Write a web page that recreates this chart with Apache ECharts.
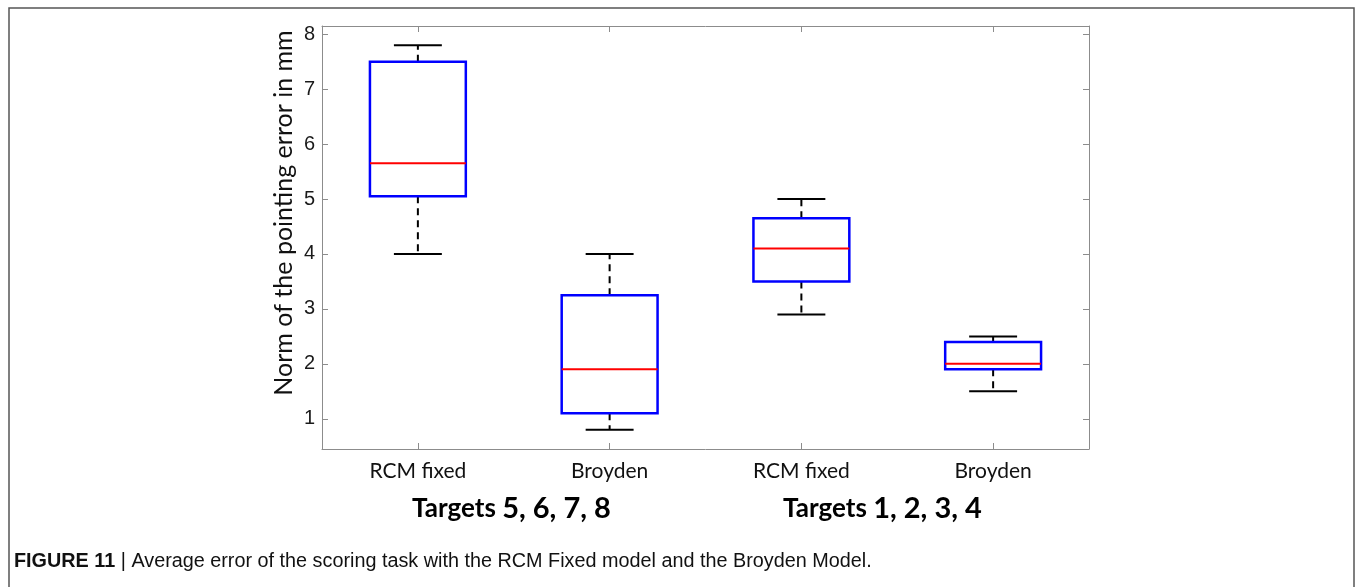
<!DOCTYPE html>
<html>
<head>
<meta charset="utf-8">
<script src="https://cdn.jsdelivr.net/npm/echarts@6/dist/echarts.min.js"></script>
<style>
  html, body { margin: 0; padding: 0; background: #fff; }
  #chart { width: 1355px; height: 587px; }
</style>
</head>
<body>
<div id="chart"></div>
<script>
// Pointing error (mm) per model, two target groups
const categories = ['RCM fixed', 'Broyden', 'RCM fixed', 'Broyden'];
const lowerWhisker = [4.0, 0.8, 2.9, 1.5];
const quartile1    = [5.05, 1.1, 3.5, 1.9];
const median       = [5.65, 1.9, 4.1, 2.0];
const quartile3    = [7.5, 3.25, 4.65, 2.4];
const upperWhisker = [7.8, 4.0, 5.0, 2.5];
const yTicks = [1, 2, 3, 4, 5, 6, 7, 8];

const boxData = categories.map((c, i) => [i, lowerWhisker[i], quartile1[i], median[i], quartile3[i], upperWhisker[i]]);

const chart = echarts.init(document.getElementById('chart'), null, { renderer: 'canvas' });

const axisGrey = '#8c8c8c';

function renderBox(params, api) {
  const idx = api.value(0);
  const band = api.size([1, 0])[0];
  const cx = api.coord([idx, 0])[0];
  const yLow = api.coord([idx, api.value(1)])[1];
  const yQ1 = api.coord([idx, api.value(2)])[1];
  const yMed = api.coord([idx, api.value(3)])[1];
  const yQ3 = api.coord([idx, api.value(4)])[1];
  const yHigh = api.coord([idx, api.value(5)])[1];
  const halfBox = band * 0.25;
  const halfCap = band * 0.125;
  const black = '#000';
  const dash = { stroke: black, lineWidth: 2, lineDash: [7, 5] };
  const solid = { stroke: black, lineWidth: 2 };
  return {
    type: 'group',
    children: [
      { type: 'line', shape: { x1: cx, y1: yQ3, x2: cx, y2: yHigh }, style: dash },
      { type: 'line', shape: { x1: cx, y1: yQ1, x2: cx, y2: yLow }, style: dash },
      { type: 'line', shape: { x1: cx - halfCap, y1: yHigh, x2: cx + halfCap, y2: yHigh }, style: solid },
      { type: 'line', shape: { x1: cx - halfCap, y1: yLow, x2: cx + halfCap, y2: yLow }, style: solid },
      { type: 'rect', shape: { x: cx - halfBox, y: yQ3, width: halfBox * 2, height: yQ1 - yQ3 },
        style: { fill: '#fff', stroke: '#0000ff', lineWidth: 2.5 } },
      { type: 'line', shape: { x1: cx - halfBox, y1: yMed, x2: cx + halfBox, y2: yMed },
        style: { stroke: '#ff0000', lineWidth: 2 } }
    ]
  };
}

const yAxisBase = {
  type: 'value',
  min: 0.45,
  max: 8.15,
  splitLine: { show: false },
  axisLine: { show: true, lineStyle: { color: axisGrey, width: 1 } },
  axisTick: { show: true, inside: true, length: 6, customValues: yTicks, lineStyle: { color: axisGrey } }
};

const option = {
  animation: false,
  backgroundColor: '#fff',
  grid: { left: 322, top: 26, right: 266, bottom: 138, containLabel: false },
  xAxis: [
    {
      type: 'category',
      data: categories,
      position: 'bottom',
      boundaryGap: true,
      axisLine: { show: true, lineStyle: { color: axisGrey, width: 1 } },
      axisTick: { show: true, inside: true, length: 6, alignWithLabel: true, lineStyle: { color: axisGrey } },
      axisLabel: { color: '#111', fontFamily: 'Lato', fontSize: 21, margin: 12 }
    },
    {
      type: 'category',
      data: categories,
      position: 'top',
      boundaryGap: true,
      axisLine: { show: true, lineStyle: { color: axisGrey, width: 1 } },
      axisTick: { show: true, inside: true, length: 6, alignWithLabel: true, lineStyle: { color: axisGrey } },
      axisLabel: { show: false }
    }
  ],
  yAxis: [
    Object.assign({}, yAxisBase, {
      position: 'left',
      axisLabel: {
        color: '#1a1a1a', fontFamily: 'Liberation Sans', fontSize: 20, margin: 7,
        customValues: yTicks
      }
    }),
    Object.assign({}, yAxisBase, {
      position: 'right',
      axisLabel: { show: false }
    })
  ],
  series: [
    {
      type: 'custom',
      xAxisIndex: 0,
      yAxisIndex: 0,
      renderItem: renderBox,
      encode: { x: 0, y: [1, 2, 3, 4, 5] },
      data: boxData,
      clip: false
    }
  ],
  graphic: [
    {
      type: 'rect', silent: true,
      shape: { x: 9, y: 8, width: 1345, height: 600 },
      style: { fill: 'none', stroke: '#555', lineWidth: 1.5 }
    },
    {
      type: 'text', silent: true,
      x: 284, y: 213, rotation: Math.PI / 2,
      style: {
        text: 'Norm of the pointing error in mm',
        fontFamily: 'Lato', fontSize: 25, fill: '#111',
        align: 'center', verticalAlign: 'middle'
      }
    },
    {
      type: 'text', silent: true,
      x: 412, y: 509,
      style: {
        text: '{a|Targets }{b|5, 6, 7, 8}',
        verticalAlign: 'middle',
        rich: {
          a: { fontFamily: 'Lato', fontWeight: 'bold', fontSize: 26, fill: '#000' },
          b: { fontFamily: 'Lato', fontWeight: 'bold', fontSize: 29, fill: '#000' }
        }
      }
    },
    {
      type: 'text', silent: true,
      x: 783, y: 509,
      style: {
        text: '{a|Targets }{b|1, 2, 3, 4}',
        verticalAlign: 'middle',
        rich: {
          a: { fontFamily: 'Lato', fontWeight: 'bold', fontSize: 26, fill: '#000' },
          b: { fontFamily: 'Lato', fontWeight: 'bold', fontSize: 29, fill: '#000' }
        }
      }
    },
    {
      type: 'text', silent: true,
      x: 14, y: 561, scaleX: 0.99,
      style: {
        text: '{b|FIGURE 11 }{r|| Average error of the scoring task with the RCM Fixed model and the Broyden Model.}',
        verticalAlign: 'middle',
        rich: {
          b: { fontFamily: 'Liberation Sans', fontWeight: 'bold', fontSize: 20, fill: '#111' },
          r: { fontFamily: 'Liberation Sans', fontSize: 20, fill: '#111' }
        }
      }
    }
  ]
};

chart.setOption(option);
</script>
</body>
</html>
